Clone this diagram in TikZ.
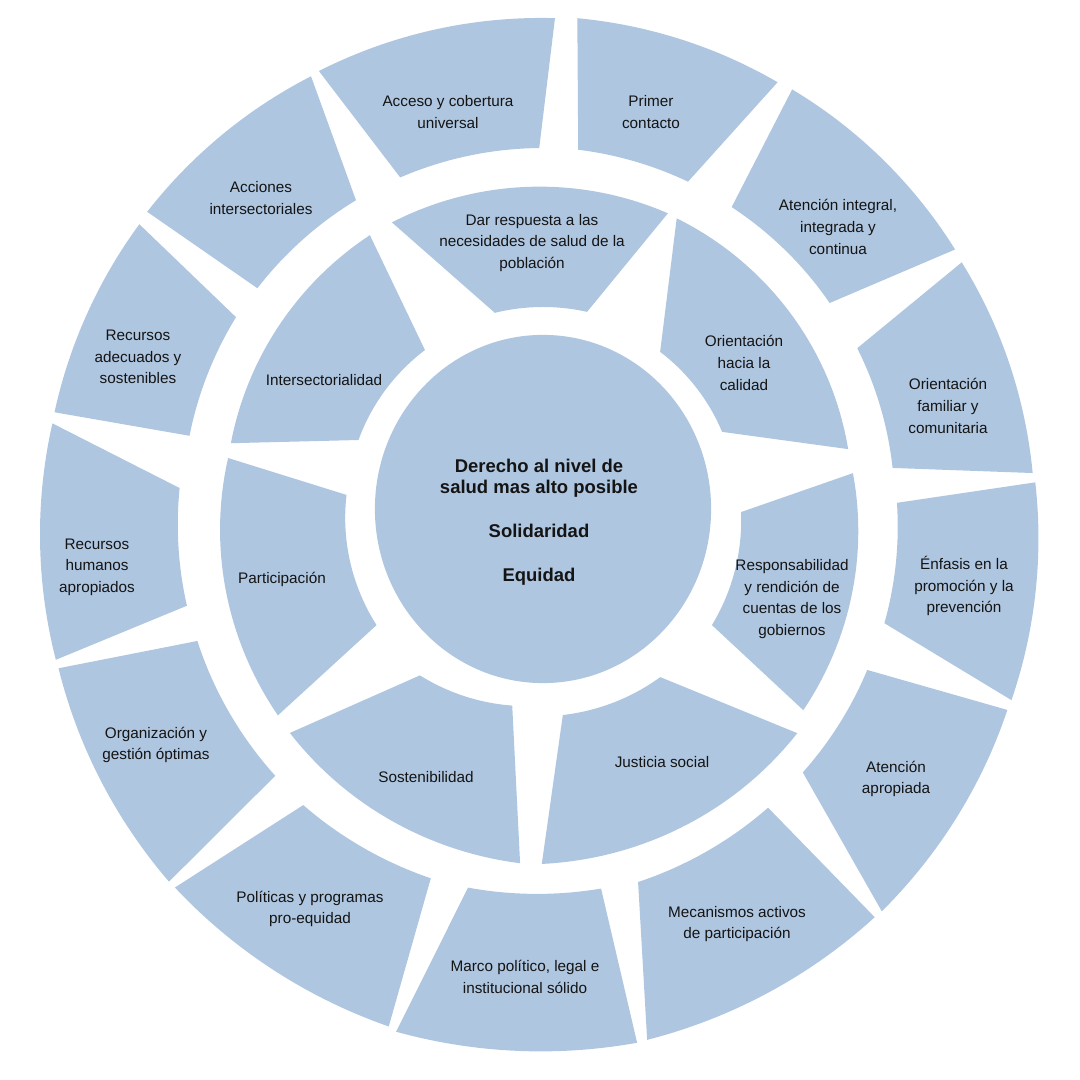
\documentclass[tikz,border=0pt]{standalone}
\usepackage{fontspec}
\setmainfont{Liberation Sans}
\usetikzlibrary{shapes.geometric}
\definecolor{segBlue}{RGB}{175,198,224}
\definecolor{txtGray}{RGB}{20,20,20}

\begin{document}
\begin{tikzpicture}[x=0.01cm,y=0.01cm,
        seg/.style={fill=segBlue},
        hub/.style={ellipse,fill=segBlue,minimum width=3.36cm,
                    minimum height=3.48cm,inner sep=0pt},
        hubtxt/.style={font=\fontsize{5.25}{6.1}\selectfont\bfseries,
                       align=center,text=txtGray,inner sep=0pt},
        lbl/.style={font=\fontsize{4.35}{6.15}\selectfont,
                    align=center,text=txtGray,inner sep=0pt}]

        \useasboundingbox (-543,-571) rectangle (537,509);

        % anillo exterior e interior: angulo/radio de las cuatro esquinas
        \foreach \angA/\radA/\angB/\radB/\angC/\radC/\angD/\radD in {
            86.0/492/61.2/487/66.1/358/84.4/361,
            59.3/488/32.2/487/35.7/353/58.0/356,
            30.5/486/4.2/491/6.7/352/27.1/353,
            3.1/493/-22.2/506/-18.5/360/1.0/354,
            -23.4/506/-49.9/526/-45.4/370/-26.4/362,
            -50.9/526/-78.9/541/-75.7/385/-53.0/374,
            -80.0/542/-105.7/543/-101.2/386/-81.3/384,
            -106.6/540/-134.2/528/-129.0/381/-106.9/386,
            -135.1/528/-161.8/510/-159.1/370/-135.1/378,
            -162.8/510/-189.9/498/-183.3/364/-164.8/369,
            -191.2/498/-215.2/494/-212.0/362/-191.7/361,
            -216.9/495/-241.8/491/-238.8/361/-217.7/361,
            -242.9/492/-271.4/491/-269.4/361/-246.7/361,
            168.1/319/122.3/324/126.6/198/159.5/197,
            117.8/324/67.1/321/77.4/202/103.8/202,
            65.3/320/11.1/311/23.3/195/53.3/196,
            6.6/312/-37.7/329/-34.5/205/-0.9/198,
            -41.4/339/-90.2/355/-84.5/207/-55.1/205,
            -93.7/355/-138.5/338/-126.5/207/-98.9/199,
            -142.1/336/-189.2/319/-184.1/197/-145.1/203}{
          \fill[seg] plot[domain=\angA:\angB,samples=30]
                (\x:{\radA+(\radB-\radA)*(\x-(\angA))/((\angB)-(\angA))})
            -- plot[domain=\angC:\angD,samples=20]
                (\x:{\radC+(\radD-\radC)*(\x-(\angC))/((\angD)-(\angC))})
            -- cycle;
        }

        % centro
        \node[hub] (hub) at (0,0) {};
        \node[hubtxt] (lema) at (-4,-13)
          {Derecho al nivel de\\salud mas alto posible\\[6.3pt]Solidaridad\\[6.3pt]Equidad};

        % anillo interior
        \node[lbl] (necesidades) at (-11,266) {Dar respuesta a las\\necesidades de salud de la\\poblaci\'on};
        \node[lbl] (calidad)     at (201,146) {Orientaci\'on\\hacia la\\calidad};
        \node[lbl] (rendicion)   at (249,-90) {Responsabilidad\\y rendici\'on de\\cuentas de los\\gobiernos};
        \node[lbl] (justicia)    at (119,-253) {Justicia social};
        \node[lbl] (sosten)      at (-117,-268) {Sostenibilidad};
        \node[lbl] (particip)    at (-261,-70) {Participaci\'on};
        \node[lbl] (intersec)    at (-219,129) {Intersectorialidad};

        % anillo exterior
        \node[lbl] (acceso)      at (-95,397) {Acceso y cobertura\\universal};
        \node[lbl] (contacto)    at (108,397) {Primer\\contacto};
        \node[lbl] (integral)    at (295,282) {Atenci\'on integral,\\integrada y\\continua};
        \node[lbl] (familiar)    at (405,103) {Orientaci\'on\\familiar y\\comunitaria};
        \node[lbl] (promocion)   at (421,-77) {\'Enfasis en la\\promoci\'on y la\\prevenci\'on};
        \node[lbl] (apropiada)   at (353,-270) {Atenci\'on\\apropiada};
        \node[lbl] (mecanismos)  at (194,-415) {Mecanismos activos\\de participaci\'on};
        \node[lbl] (marco)       at (-18,-468) {Marco pol\'itico, legal e\\institucional s\'olido};
        \node[lbl] (politicas)   at (-233,-400) {Pol\'iticas y programas\\pro-equidad};
        \node[lbl] (gestion)     at (-387,-236) {Organizaci\'on y\\gesti\'on \'optimas};
        \node[lbl] (rrhh)        at (-446,-58) {Recursos\\humanos\\apropiados};
        \node[lbl] (recursos)    at (-405,152) {Recursos\\adecuados y\\sostenibles};
        \node[lbl] (acciones)    at (-282,311) {Acciones\\intersectoriales};
\end{tikzpicture}
\end{document}
